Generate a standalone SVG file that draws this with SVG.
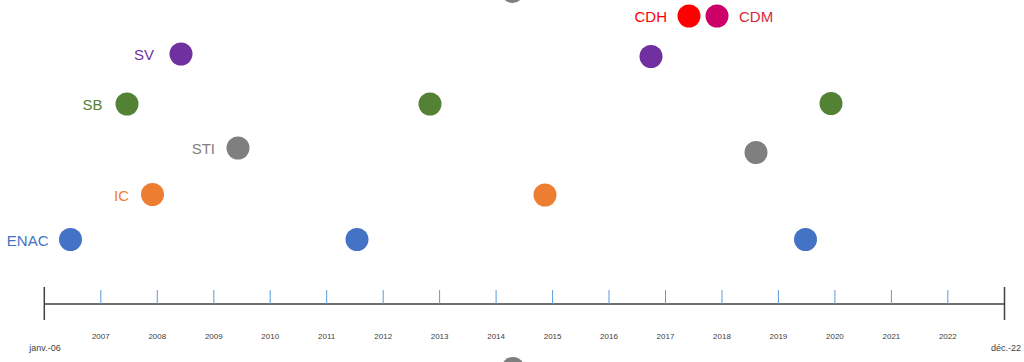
<svg xmlns="http://www.w3.org/2000/svg" width="1024" height="362" viewBox="0 0 1024 362">
<style>
.lbl{font-family:"Liberation Sans",Arial,sans-serif;font-size:15px;text-anchor:end}
.yr{font-family:"Liberation Sans",Arial,sans-serif;font-size:8px;fill:#404040;text-anchor:middle}
.end{font-family:"Liberation Sans",Arial,sans-serif;font-size:9px;fill:#404040;text-anchor:middle}
.tick{stroke:#5B9BD5;stroke-width:1}
.axis{stroke:#404040;stroke-width:1.5;fill:none}
</style>
<rect width="1024" height="362" fill="#ffffff"/>
<g id="axis">
<line class="axis" x1="44.3" y1="304" x2="1004.5" y2="304"/>
<line class="axis" x1="44.3" y1="287" x2="44.3" y2="320"/>
<line class="axis" x1="1004.5" y1="287" x2="1004.5" y2="320"/>
<g class="tick">
<line x1="100.8" y1="290" x2="100.8" y2="304"/>
<line x1="157.3" y1="290" x2="157.3" y2="304"/>
<line x1="213.8" y1="290" x2="213.8" y2="304"/>
<line x1="270.2" y1="290" x2="270.2" y2="304"/>
<line x1="326.7" y1="290" x2="326.7" y2="304"/>
<line x1="383.2" y1="290" x2="383.2" y2="304"/>
<line x1="439.6" y1="290" x2="439.6" y2="304"/>
<line x1="496.1" y1="290" x2="496.1" y2="304"/>
<line x1="552.6" y1="290" x2="552.6" y2="304"/>
<line x1="609.0" y1="290" x2="609.0" y2="304"/>
<line x1="665.5" y1="290" x2="665.5" y2="304"/>
<line x1="722.0" y1="290" x2="722.0" y2="304"/>
<line x1="778.4" y1="290" x2="778.4" y2="304"/>
<line x1="834.9" y1="290" x2="834.9" y2="304"/>
<line x1="891.4" y1="290" x2="891.4" y2="304"/>
<line x1="947.8" y1="290" x2="947.8" y2="304"/>
</g>
<text class="yr" x="100.8" y="339">2007</text>
<text class="yr" x="157.3" y="339">2008</text>
<text class="yr" x="213.8" y="339">2009</text>
<text class="yr" x="270.2" y="339">2010</text>
<text class="yr" x="326.7" y="339">2011</text>
<text class="yr" x="383.2" y="339">2012</text>
<text class="yr" x="439.6" y="339">2013</text>
<text class="yr" x="496.1" y="339">2014</text>
<text class="yr" x="552.6" y="339">2015</text>
<text class="yr" x="609.0" y="339">2016</text>
<text class="yr" x="665.5" y="339">2017</text>
<text class="yr" x="722.0" y="339">2018</text>
<text class="yr" x="778.4" y="339">2019</text>
<text class="yr" x="834.9" y="339">2020</text>
<text class="yr" x="891.4" y="339">2021</text>
<text class="yr" x="947.8" y="339">2022</text>
<text class="end" x="45" y="351">janv.-06</text>
<text class="end" x="1006" y="351">déc.-22</text>
</g>
<g id="ENAC">
<text class="lbl" x="48.5" y="245.5" fill="#4472C4">ENAC</text>
<circle cx="70.5" cy="239.5" r="11.5" fill="#4472C4"/>
<circle cx="357" cy="239.5" r="11.5" fill="#4472C4"/>
<circle cx="805.5" cy="239.5" r="11.5" fill="#4472C4"/>
</g>
<g id="IC">
<text class="lbl" x="129" y="200.5" fill="#ED7D31">IC</text>
<circle cx="152.5" cy="194.5" r="11.5" fill="#ED7D31"/>
<circle cx="545" cy="195" r="11.5" fill="#ED7D31"/>
</g>
<g id="STI">
<text class="lbl" x="215" y="154" fill="#7F7F7F">STI</text>
<circle cx="238" cy="148" r="11.5" fill="#7F7F7F"/>
<circle cx="756" cy="152.5" r="11.5" fill="#7F7F7F"/>
</g>
<g id="SB">
<text class="lbl" x="102.5" y="109.5" fill="#548235">SB</text>
<circle cx="127" cy="104" r="11.5" fill="#548235"/>
<circle cx="430" cy="104" r="11.5" fill="#548235"/>
<circle cx="831" cy="103.5" r="11.5" fill="#548235"/>
</g>
<g id="SV">
<text class="lbl" x="154" y="59.5" fill="#7030A0">SV</text>
<circle cx="181" cy="54" r="11.5" fill="#7030A0"/>
<circle cx="651" cy="56.5" r="11.5" fill="#7030A0"/>
</g>
<g id="CDH">
<text class="lbl" x="667" y="22" fill="#FF0000">CDH</text>
<circle cx="689" cy="16" r="11.5" fill="#FF0000"/>
</g>
<g id="CDM">
<circle cx="717" cy="16" r="11.5" fill="#CC0066"/>
<text x="739" y="22" font-family="Liberation Sans, Arial, sans-serif" font-size="15" fill="#D42A3A">CDM</text>
</g>
<g id="gray-top">
<circle cx="512.5" cy="-8.5" r="11.5" fill="#7F7F7F"/>
</g>
<g id="gray-bottom">
<circle cx="513" cy="368.5" r="11.5" fill="#7F7F7F"/>
</g>
</svg>
